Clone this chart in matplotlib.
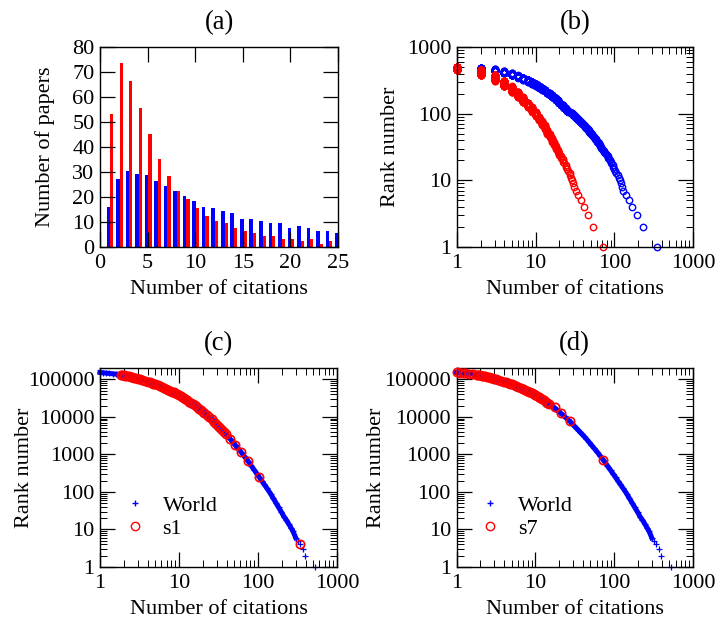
import numpy as np
import matplotlib
matplotlib.use("Agg")
import matplotlib.pyplot as plt
from matplotlib.lines import Line2D
from matplotlib.ticker import FixedLocator, LogLocator, NullFormatter, FuncFormatter

plt.rcParams["font.family"] = ["Liberation Serif", "DejaVu Serif"]
plt.rcParams["font.size"] = 16

BLUE = "#0000ff"
RED = "#ff0000"

# (a) histogram, citations 1..25
hist_cit = list(range(1, 26))
hist_blue = [16.1, 27.2, 30.4, 29.3, 28.8, 26.6, 24.4, 22.4, 20.6, 18.6, 16.2, 15.6, 14.4,
             13.7, 11.3, 11.3, 10.5, 9.5, 9.5, 7.5, 8.3, 7.6, 6.4, 6.4, 5.6]
hist_red = [53.3, 73.8, 66.4, 55.8, 45.4, 35.4, 28.5, 22.4, 19.3, 15.6, 12.4, 10.5, 9.5,
            7.5, 6.4, 5.6, 4.4, 4.4, 3.3, 3.3, 2.4, 3.3, 1.3, 2.4, 0.0]

# (b) paper counts per citation value 1..25, plus citations of the most cited papers
count_blue = [16, 27, 30, 29, 29, 27, 24, 22, 21, 19, 16, 16, 14, 14, 11, 11, 10, 10, 9, 8,
              8, 8, 6, 6, 6]
count_red = [53, 74, 66, 56, 45, 35, 29, 22, 19, 16, 12, 11, 10, 8, 6, 6, 4, 4, 3, 3,
             2, 3, 1, 2, 1]
tail_blue = [345, 233, 192, 166, 153, 140, 130, 125, 121, 118,
             114, 110, 106, 103, 100, 97, 95, 92, 90, 88,
             86, 84, 82, 80, 78, 76, 74, 73, 71, 70,
             68, 67, 66, 65, 64, 63, 62, 61, 60, 59,
             58, 57, 56, 55, 55, 54, 53, 52, 52, 51,
             50, 49, 49, 48, 48, 47, 46, 46, 45, 45,
             44, 44, 43, 43, 42, 42, 41, 41, 40, 40,
             39, 39, 39, 38, 38, 37, 37, 37, 36, 36,
             35, 35, 35, 34, 34, 34, 33, 33, 33, 32,
             32, 32, 31, 31, 31, 30, 30, 30, 30, 29,
             29, 29, 28, 28, 27, 27, 26, 26]
tail_red = [72, 54, 46, 41, 38, 35, 33, 31, 30, 29, 28, 27, 27, 26]

# (c), (d) world rank curve and the two samples
world_cit = [1.0, 1.1, 1.2, 1.3, 1.45, 1.6, 1.83, 1.9, 2.0, 2.1, 2.2, 2.3, 2.45, 2.55, 2.7,
             2.85, 3.0, 3.2, 3.4, 3.7, 4.0, 4.25, 4.5, 4.75, 5.0, 5.35, 5.7, 6.1, 6.5, 6.9,
             7.3, 7.75, 8.2, 8.6, 9.0, 9.5, 10, 10.5, 11, 11.5, 12, 12.7, 13.5, 14.2, 15,
             16, 17, 18, 19, 20, 21, 22.5, 24, 25.8, 27.7, 29.3, 31, 33, 35, 37, 39, 41.5,
             44.3, 48, 51.2, 55, 60.3, 66, 74.8, 82, 90, 97, 104, 112, 120, 130, 144, 155,
             168, 182, 198, 213, 228, 245, 262, 277, 300, 320, 343, 370, 390, 520]
world_rank = [152000, 149000, 146000, 143600, 140000, 137000, 133000, 131100, 128500, 125900,
              123700, 121400, 118300, 115300, 111000, 107200, 103800, 99500, 95700, 90600,
              86100, 82300, 78800, 75700, 72800, 69200, 65900, 62800, 59700, 56200, 53200,
              50100, 47300, 45100, 43100, 40800, 38800, 36200, 34000, 31900, 30100, 27800,
              25500, 23800, 22000, 20100, 18500, 16600, 15000, 13600, 12500, 11000, 9750,
              8530, 7480, 6590, 5800, 5050, 4420, 3900, 3470, 3010, 2600, 2120, 1800, 1500,
              1190, 930, 660, 501, 379, 303, 245, 195, 158, 124, 90, 69, 52, 39, 29, 22, 18,
              14, 11, 9, 6, 5, 4, 3, 2, 1]

s1_cit = [1.83, 1.9, 2.0, 2.1, 2.2, 2.3, 2.45, 2.55, 2.7, 2.85, 3.0, 3.2, 3.4, 3.7, 4.0,
          4.25, 4.5, 4.75, 5.0, 5.35, 5.7, 6.1, 6.5, 6.9, 7.3, 7.75, 8.2, 8.6, 9.0, 9.5, 10,
          10.5, 11, 11.5, 12, 12.7, 13.5, 14.2, 15, 16, 17, 18, 19, 20, 21, 22.5, 24, 25.8,
          27.7, 29.3, 31, 33, 35, 37, 39, 44.3, 51.2, 60.3, 74.8, 104, 343]
s1_rank = [133000, 131100, 128500, 125900, 123700, 121400, 118300, 115300, 111000, 107200,
           103800, 99500, 95700, 90600, 86100, 82300, 78800, 75700, 72800, 69200, 65900,
           62800, 59700, 56200, 53200, 50100, 47300, 45100, 43100, 40800, 38800, 36200,
           34000, 31900, 30100, 27800, 25500, 23800, 22000, 20100, 18500, 16600, 15000,
           13600, 12500, 11000, 9750, 8530, 7480, 6590, 5800, 5050, 4420, 3900, 3470,
           2600, 1800, 1190, 660, 245, 4]

s7_cit = [1.0, 1.1, 1.2, 1.3, 1.45, 1.6, 1.83, 1.9, 2.0, 2.1, 2.2, 2.3, 2.45, 2.55, 2.7,
          2.85, 3.0, 3.2, 3.4, 3.7, 4.0, 4.25, 4.5, 4.75, 5.0, 5.35, 5.7, 6.1, 6.5, 6.9,
          7.3, 7.75, 8.2, 8.6, 9.0, 9.5, 10, 10.5, 11, 11.5, 12, 12.7, 13.5, 14.2, 15,
          17.6, 21.1, 27.8, 73.1]
s7_rank = [152000, 149000, 146000, 143600, 140000, 137000, 133000, 131100, 128500, 125900,
           123700, 121400, 118300, 115300, 111000, 107200, 103800, 99500, 95700, 90600,
           86100, 82300, 78800, 75700, 72800, 69200, 65900, 62800, 59700, 56200, 53200,
           50100, 47300, 45100, 43100, 40800, 38800, 36200, 34000, 31900, 30100, 27800,
           25500, 23800, 22000, 17900, 12600, 7600, 700]


def rank_points(counts, tail):
    cits = list(tail)
    for c, n in zip(hist_cit, counts):
        cits += [c] * n
    cits = np.sort(np.array(cits))[::-1]
    return cits, np.arange(1, len(cits) + 1)


int_fmt = FuncFormatter(lambda v, p: "%d" % round(v))


def style(ax):
    ax.tick_params(which="both", direction="in", top=True, right=True, labelsize=16)
    ax.tick_params(axis="x", pad=5)
    ax.tick_params(axis="y", pad=4)
    ax.tick_params(which="major", length=10.5, width=0.9)
    ax.tick_params(which="minor", length=5, width=0.7)
    for s in ax.spines.values():
        s.set_linewidth(1.0)


def log_axes(ax, ymajor, ymax):
    ax.set_xscale("log")
    ax.set_yscale("log")
    ax.set_xlim(1, 1000)
    ax.set_ylim(1, ymax)
    ax.xaxis.set_major_locator(FixedLocator([1, 10, 100, 1000]))
    ax.yaxis.set_major_locator(FixedLocator(ymajor))
    for axis in (ax.xaxis, ax.yaxis):
        axis.set_minor_locator(LogLocator(base=10, subs=np.arange(2, 10), numticks=60))
        axis.set_major_formatter(int_fmt)
        axis.set_minor_formatter(NullFormatter())
    style(ax)


fig = plt.figure(figsize=(7.16, 6.19), dpi=100)
ax_a = fig.add_axes([100 / 716, 1 - 247 / 619, 238 / 716, 200 / 619])
ax_b = fig.add_axes([457 / 716, 1 - 247 / 619, 236 / 716, 200 / 619])
ax_c = fig.add_axes([100 / 716, 1 - 567 / 619, 237 / 716, 199 / 619])
ax_d = fig.add_axes([456.5 / 716, 1 - 567 / 619, 236.5 / 716, 199 / 619])

# (a)
x = np.array(hist_cit)
ax_a.bar(x - 0.3, hist_blue, width=0.38, align="edge", color=BLUE, linewidth=0)
ax_a.bar(x + 0.08, hist_red, width=0.33, align="edge", color=RED, linewidth=0)
ax_a.set_xlim(0, 25)
ax_a.set_ylim(0, 80)
ax_a.set_xticks(range(0, 26, 5))
ax_a.set_yticks(range(0, 81, 10))
ax_a.set_axisbelow(False)
style(ax_a)
ax_a.set_xlabel("Number of citations", labelpad=5)
ax_a.set_ylabel("Number of papers")
ax_a.yaxis.set_label_coords(-0.19, 0.5)
ax_a.set_title("(a)", pad=13)

# (b)
bc, br = rank_points(count_blue, tail_blue)
rc, rr = rank_points(count_red, tail_red)
ax_b.plot(bc, br, "o", ms=4.6, mfc="none", mec=BLUE, mew=1.0, clip_on=False)
ax_b.plot(rc, rr, "o", ms=4.6, mfc="none", mec=RED, mew=1.0, clip_on=False)
log_axes(ax_b, [1, 10, 100, 1000], 1000)
ax_b.set_xlabel("Number of citations", labelpad=5)
ax_b.set_ylabel("Rank number")
ax_b.yaxis.set_label_coords(-0.24, 0.5)
ax_b.set_title("(b)", pad=13)

# (c), (d)
wc = np.array(world_cit)
wr = np.array(world_rank)
for ax, sc, sr, name, title, lx in [(ax_c, s1_cit, s1_rank, "s1", "(c)", 0.10),
                                     (ax_d, s7_cit, s7_rank, "s7", "(d)", 0.095)]:
    dense = wr >= 6
    ax.plot(wc[dense], wr[dense], "-", color=BLUE, lw=3.6, zorder=2, clip_on=False)
    ax.plot(wc, wr, "+", color=BLUE, ms=4.5, mew=0.9, zorder=2, clip_on=False)
    ax.plot(sc, sr, "o", ms=6, mfc="none", mec=RED, mew=1.2, zorder=3, clip_on=False)
    log_axes(ax, [1, 10, 100, 1000, 10000, 100000], 2e5)
    ax.set_xlabel("Number of citations", labelpad=5)
    ax.set_ylabel("Rank number")
    ax.set_title(title, pad=13)
    handles = [Line2D([], [], ls="none", marker="+", color=BLUE, ms=5, mew=1.0),
               Line2D([], [], ls="none", marker="o", mfc="none", mec=RED, ms=6, mew=1.0)]
    ax.legend(handles, ["World", name], loc="center left", bbox_to_anchor=(lx, 0.25),
              frameon=False, borderpad=0, borderaxespad=0, handlelength=1.0,
              handletextpad=0.75, labelspacing=0.1, fontsize=16)
ax_c.yaxis.set_label_coords(-0.28, 0.5)
ax_d.yaxis.set_label_coords(-0.30, 0.5)

fig.savefig("out.png", dpi=100)
plt.close(fig)
